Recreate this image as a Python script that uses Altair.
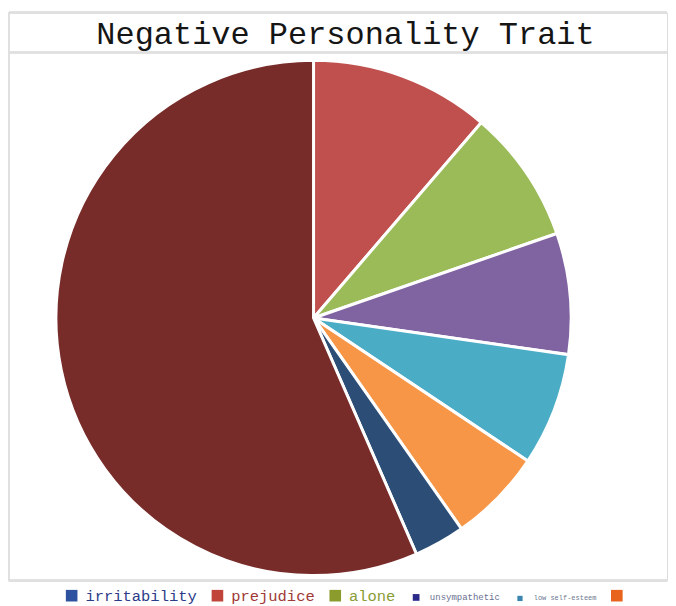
import altair as alt
import pandas as pd

# Slices clockwise from 12 o'clock (percent of the whole)
traits = ["irritability", "prejudice", "alone", "unsympathetic", "low self-esteem", " ", "  ", "   "]
shares = [0.0, 11.3, 8.4, 7.6, 7.1, 5.9, 3.2, 56.6]
colors = ["#4f81bd", "#c0504d", "#9bbb59", "#8064a2", "#4bacc6", "#f79646", "#2c4d75", "#772c2a"]

# legend entries as they appear in the picture
legend_traits = ["irritability", "prejudice", "alone", "unsympathetic", "low self-esteem", " "]
legend_colors = ["#2f52a0", "#c0443a", "#8c9c2c", "#2c2a88", "#3a86b0", "#e8641e"]
legend_text_colors = ["#2c3c88", "#a03a36", "#8a9c34", "#6a7090", "#6a7890", "#888888"]
legend_sizes = [15.5, 15.5, 15.5, 9, 7, 15.5]

title_text = "Negative Personality Trait"

df = pd.DataFrame({"trait": traits, "share": shares, "idx": list(range(len(traits)))})
legend_df = pd.DataFrame({"entry": legend_traits})


def lookup_expr(values, default, key="datum.label"):
    parts = []
    for t, v in zip(legend_traits, values):
        vv = f"'{v}'" if isinstance(v, str) else str(v)
        parts.append(f"{key} == '{t}' ? {vv} : ")
    dd = f"'{default}'" if isinstance(default, str) else str(default)
    return "".join(parts) + dd


size_expr = lookup_expr([(s * 0.75) ** 2 for s in legend_sizes], 150)
font_expr = lookup_expr(legend_sizes, 15.5)
label_color_expr = lookup_expr(legend_text_colors, "#444444")

pie = alt.Chart(df).mark_arc(radius=258, stroke="white", strokeWidth=3).encode(
    theta=alt.Theta("share:Q", stack=True),
    order=alt.Order("idx:Q"),
    color=alt.Color("trait:N", sort=traits, scale=alt.Scale(domain=traits, range=colors), legend=None),
    x=alt.value(306),
    y=alt.value(306),
)

legend_layer = alt.Chart(legend_df).mark_square(size=0, filled=True, opacity=1).encode(
    color=alt.Color(
        "entry:N",
        sort=legend_traits,
        scale=alt.Scale(domain=legend_traits, range=legend_colors),
        legend=alt.Legend(
            title=None,
            orient="none",
            legendX=56,
            legendY=576,
            direction="horizontal",
            symbolType="square",
            symbolSize=alt.ExprRef(size_expr),
            symbolStrokeWidth=0,
            symbolOpacity=1,
            labelFont="Liberation Mono",
            labelFontSize=alt.ExprRef(font_expr),
            labelColor=alt.ExprRef(label_color_expr),
            labelOffset=6,
            columnPadding=12,
        ),
    ),
    x=alt.value(306),
    y=alt.value(306),
)

line_color = "#e0e0e0"
frame_top = alt.Chart(df).mark_rule(color=line_color, strokeWidth=1.5).encode(
    x=alt.value(1), x2=alt.value("width"), y=alt.value(0)
)
frame_left = alt.Chart(df).mark_rule(color=line_color, strokeWidth=1.5).encode(
    x=alt.value(1), y=alt.value(0), y2=alt.value("height")
)
title_sep = alt.Chart(df).mark_rule(color=line_color, strokeWidth=1.5).encode(
    x=alt.value(1), x2=alt.value("width"), y=alt.value(40)
)
legend_sep = alt.Chart(df).mark_rule(color=line_color, strokeWidth=1.5).encode(
    x=alt.value(1), x2=alt.value("width"), y=alt.value("height")
)

title = alt.Chart(pd.DataFrame({"t": [title_text]})).mark_text(
    font="Liberation Mono", fontSize=32, color="#151515", align="center", baseline="middle"
).encode(text="t:N", x=alt.value(338), y=alt.value(22))

chart = alt.layer(frame_top, frame_left, title_sep, legend_sep, title, pie, legend_layer).resolve_scale(
    color="independent"
).properties(
    width=660,
    height=569,
    padding={"left": 0, "top": 3, "right": 0, "bottom": 0},
).configure_view(stroke=None).configure(background="white")

chart.save("out.html", embed_options={"renderer": "svg", "actions": False})
